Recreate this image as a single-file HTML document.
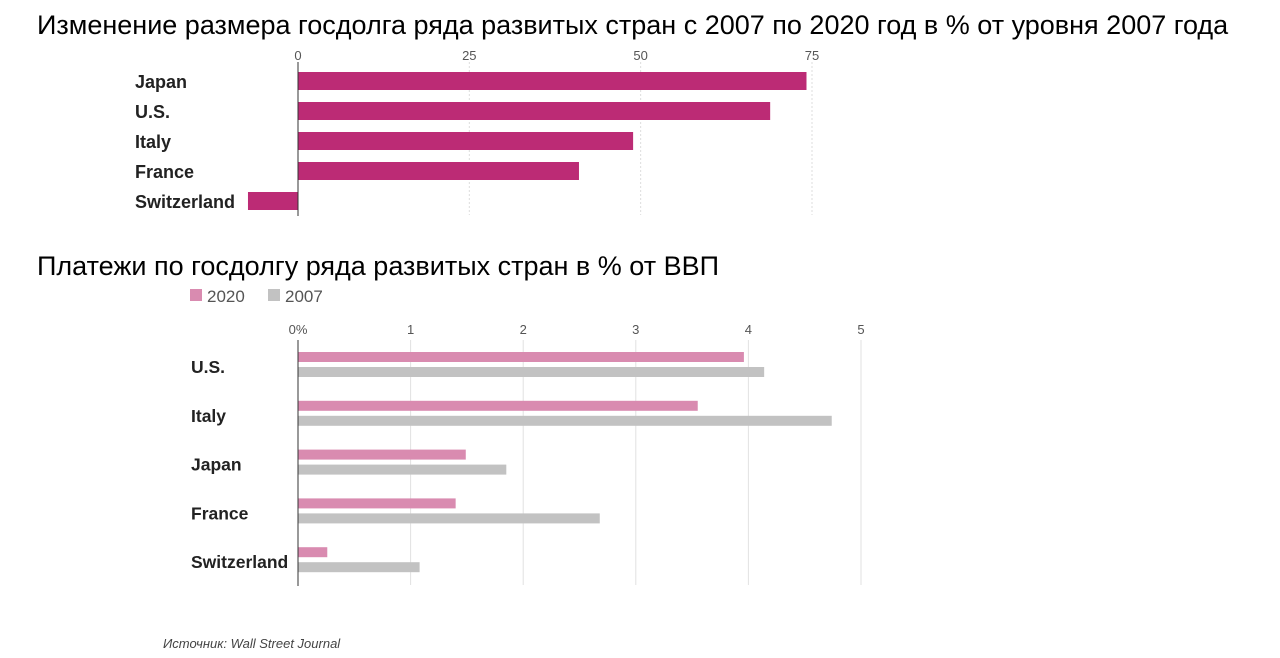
<!DOCTYPE html>
<html><head><meta charset="utf-8">
<style>
body{margin:0;width:1280px;height:658px;background:#fff;overflow:hidden;font-family:"Liberation Sans","Noto Sans CJK SC",sans-serif}
.t{position:absolute;left:37px;font-size:27px;color:#000;white-space:nowrap;line-height:1}
svg{position:absolute;left:0;top:0}
</style></head><body>
<div class="t" style="top:12px">Изменение размера госдолга ряда развитых стран с 2007 по 2020 год в % от уровня 2007 года</div>
<div class="t" style="top:253px">Платежи по госдолгу ряда развитых стран в % от ВВП</div>
<div style="position:absolute;left:163px;top:636px;font-size:13px;font-style:italic;color:#444">Источник: Wall Street Journal</div>
<svg id="c" width="1280" height="658"></svg>
<script>
const topCats=["Japan","U.S.","Italy","France","Switzerland"];
const topVals=[74.2,68.9,48.9,41.0,-7.3];
const topTicks=[0,25,50,75];
const botCats=["U.S.","Italy","Japan","France","Switzerland"];
const vals2020=[3.96,3.55,1.49,1.40,0.26];
const vals2007=[4.14,4.74,1.85,2.68,1.08];
const botTicks=[0,1,2,3,4,5];
const botTickLabels=["0%","1","2","3","4","5"];

const svg=document.getElementById('c');
const NS='http://www.w3.org/2000/svg';
function mk(tag,a,txt){const e=document.createElementNS(NS,tag);for(const k in a)e.setAttribute(k,a[k]);if(txt!=null)e.textContent=txt;svg.appendChild(e);return e;}
const tx=v=>298+v*6.853;
topTicks.forEach(t=>{
 const g=mk('line',{x1:tx(t),x2:tx(t),y1:62,y2:215,stroke:'#ddd','stroke-dasharray':'2,2'});
 
 const l=mk('text',{x:tx(t),y:60,'text-anchor':'middle','font-size':13,fill:'#555'},t);
 
});
topCats.forEach((c,i)=>{
 const y=72+i*30,v=topVals[i];
 const b=mk('rect',{x:Math.min(tx(0),tx(v)),y:y,width:Math.abs(tx(v)-tx(0)),height:18,fill:'#bc2b75'});
 
 const l=mk('text',{x:135,y:y+16,'font-size':18,'font-weight':'bold',fill:'#222'},c);
 
});
const ta=mk('line',{x1:298,x2:298,y1:62,y2:216,stroke:'#333','stroke-width':1});

const bx=v=>298+v*112.6;
botTicks.forEach((t,i)=>{
 const g=mk('line',{x1:bx(t),x2:bx(t),y1:340,y2:585,stroke:'#e2e2e2'});
 
 const l=mk('text',{x:bx(t),y:334,'text-anchor':'middle','font-size':13,fill:'#555'},botTickLabels[i]);
 
});
botCats.forEach((c,i)=>{
 const y=352+i*48.8;
 const a=mk('rect',{x:bx(0),y:y,width:bx(vals2020[i])-bx(0),height:10,fill:'#d98bb0'});
 
 const b=mk('rect',{x:bx(0),y:y+15,width:bx(vals2007[i])-bx(0),height:10,fill:'#c2c2c2'});
 
 const l=mk('text',{x:191,y:y+21,'font-size':17.5,'font-weight':'bold',fill:'#222'},c);
 
});
const ba=mk('line',{x1:298,x2:298,y1:340,y2:586,stroke:'#333'});

const l1=mk('rect',{x:190,y:289,width:12,height:12,fill:'#d98bb0'});

const l2=mk('text',{x:207,y:302,'font-size':17,fill:'#555'},'2020');

const l3=mk('rect',{x:268,y:289,width:12,height:12,fill:'#c2c2c2'});

const l4=mk('text',{x:285,y:302,'font-size':17,fill:'#555'},'2007');

</script>
</body></html>
